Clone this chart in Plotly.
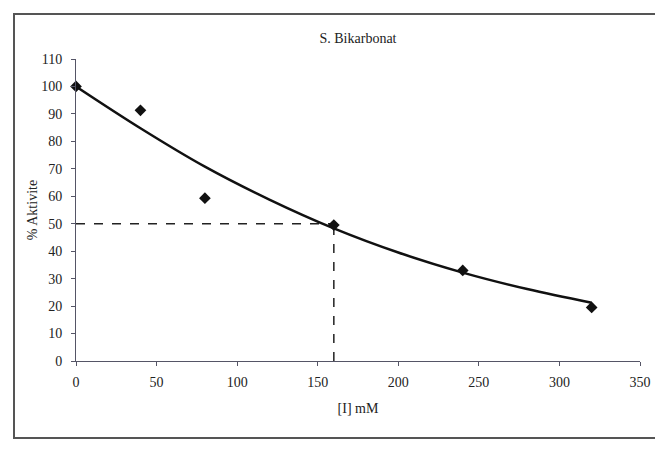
import plotly.graph_objects as go

# Measured data points
conc_mM = [0, 40, 80, 160, 240, 320]
activity_pct = [100, 91.3, 59.3, 49.5, 33.0, 19.5]

# Trend curve
curve_x = [0, 40, 80, 120, 160, 200, 240, 280, 320]
curve_y = [100, 84.8, 70.8, 58.8, 48.3, 39.5, 32.2, 26.2, 21.2]

# IC50 guide
ic50_x = 160
ic50_y = 50
ic50_curve_y = 48.3

x_ticks = [0, 50, 100, 150, 200, 250, 300, 350]
y_ticks = [0, 10, 20, 30, 40, 50, 60, 70, 80, 90, 100, 110]

FONT = "Liberation Serif, Times New Roman, serif"
OFF = 8  # page body offset

W, H = 663 - OFF, 455 - OFF
L, R, T, B = 76 - OFF, 23, 59 - OFF, 94
PW, PH = W - L - R, H - T - B

fig = go.Figure()

fig.add_trace(go.Scatter(
    x=[0, ic50_x], y=[ic50_y, ic50_y], mode="lines",
    line=dict(color="#222", width=1.5, dash="dash"), showlegend=False, hoverinfo="skip"))
fig.add_trace(go.Scatter(
    x=[ic50_x, ic50_x], y=[0, ic50_curve_y], mode="lines",
    line=dict(color="#222", width=1.5, dash="dash"), showlegend=False, hoverinfo="skip"))

fig.add_trace(go.Scatter(
    x=curve_x, y=curve_y, mode="lines", line_shape="spline",
    line=dict(color="#111", width=2.5), showlegend=False))

fig.add_trace(go.Scatter(
    x=conc_mM, y=activity_pct, mode="markers", cliponaxis=False,
    marker=dict(symbol="diamond", size=9, color="#111"), showlegend=False))

fig.update_layout(
    width=W, height=H,
    margin=dict(l=L, r=R, t=T, b=B),
    paper_bgcolor="white", plot_bgcolor="white",
    font=dict(family=FONT, size=14, color="#222"),
    title=dict(text="S. Bikarbonat", x=0.5, xref="paper", y=1 - (38 - OFF) / H,
               yanchor="middle", font=dict(family=FONT, size=14, color="#222")),
    xaxis=dict(range=[0, 350], tickvals=x_ticks, showgrid=False, zeroline=False,
               showline=True, linecolor="#556", linewidth=1,
               ticks="outside", ticklen=4, tickcolor="#556", ticklabelstandoff=4,
               tickfont=dict(family=FONT, size=14, color="#222"),
               title=dict(text="[I] mM", font=dict(family=FONT, size=14, color="#222"), standoff=14)),
    yaxis=dict(range=[0, 110], tickvals=y_ticks, showgrid=False, zeroline=False,
               showline=True, linecolor="#556", linewidth=1,
               ticks="outside", ticklen=4, tickcolor="#556", ticklabelstandoff=6,
               tickfont=dict(family=FONT, size=14, color="#222"),
               title=dict(text="% Aktivite", font=dict(family=FONT, size=14, color="#222"), standoff=0)),
    shapes=[dict(type="rect", xref="paper", yref="paper",
                 x0=(14 - 76) / PW, x1=(657 - 76) / PW,
                 y0=(361 - 438) / PH, y1=(361 - 14) / PH,
                 line=dict(color="#555", width=2), fillcolor="rgba(0,0,0,0)", layer="below")],
)

fig.write_html("out.html")
